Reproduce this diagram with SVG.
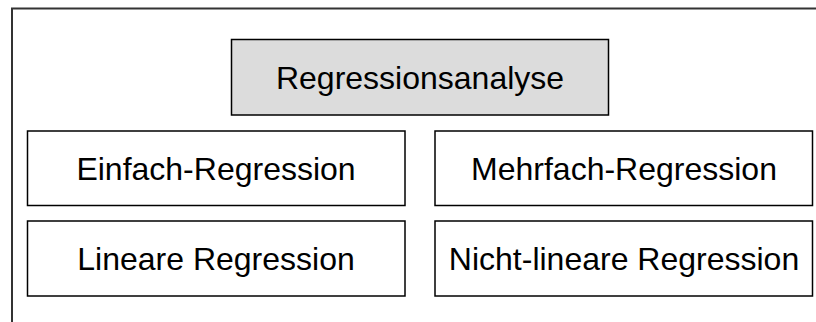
<svg xmlns="http://www.w3.org/2000/svg" width="816" height="322" viewBox="0 0 816 322">
  <style>
    .box { fill: #ffffff; stroke: #000000; stroke-width: 1.5; }
    .root { fill: #dcdcdc; }
    .label { font-family: "Liberation Sans", Arial, sans-serif; font-size: 32px; fill: #000000; text-anchor: middle; }
    .frame { fill: none; stroke: #333333; stroke-width: 2; }
  </style>
  <rect x="0" y="0" width="816" height="322" fill="#ffffff"/>
  <!-- outer frame: top and left edges only -->
  <path class="frame" d="M12,322 V8.5 H816"/>
  <g id="regressionsanalyse">
    <rect class="box root" x="231.5" y="39.5" width="377" height="75.5"/>
    <text class="label" x="420" y="89">Regressionsanalyse</text>
  </g>
  <g id="einfach-regression">
    <rect class="box" x="27.5" y="131" width="377.5" height="74.5"/>
    <text class="label" x="216" y="180">Einfach-Regression</text>
  </g>
  <g id="mehrfach-regression">
    <rect class="box" x="435" y="131" width="377.5" height="74.5"/>
    <text class="label" x="624" y="180">Mehrfach-Regression</text>
  </g>
  <g id="lineare-regression">
    <rect class="box" x="27.5" y="221" width="377.5" height="75"/>
    <text class="label" x="216" y="270">Lineare Regression</text>
  </g>
  <g id="nicht-lineare-regression">
    <rect class="box" x="435" y="221" width="377.5" height="75"/>
    <text class="label" x="624" y="270">Nicht-lineare Regression</text>
  </g>
  <g id="connectors"/>
</svg>
